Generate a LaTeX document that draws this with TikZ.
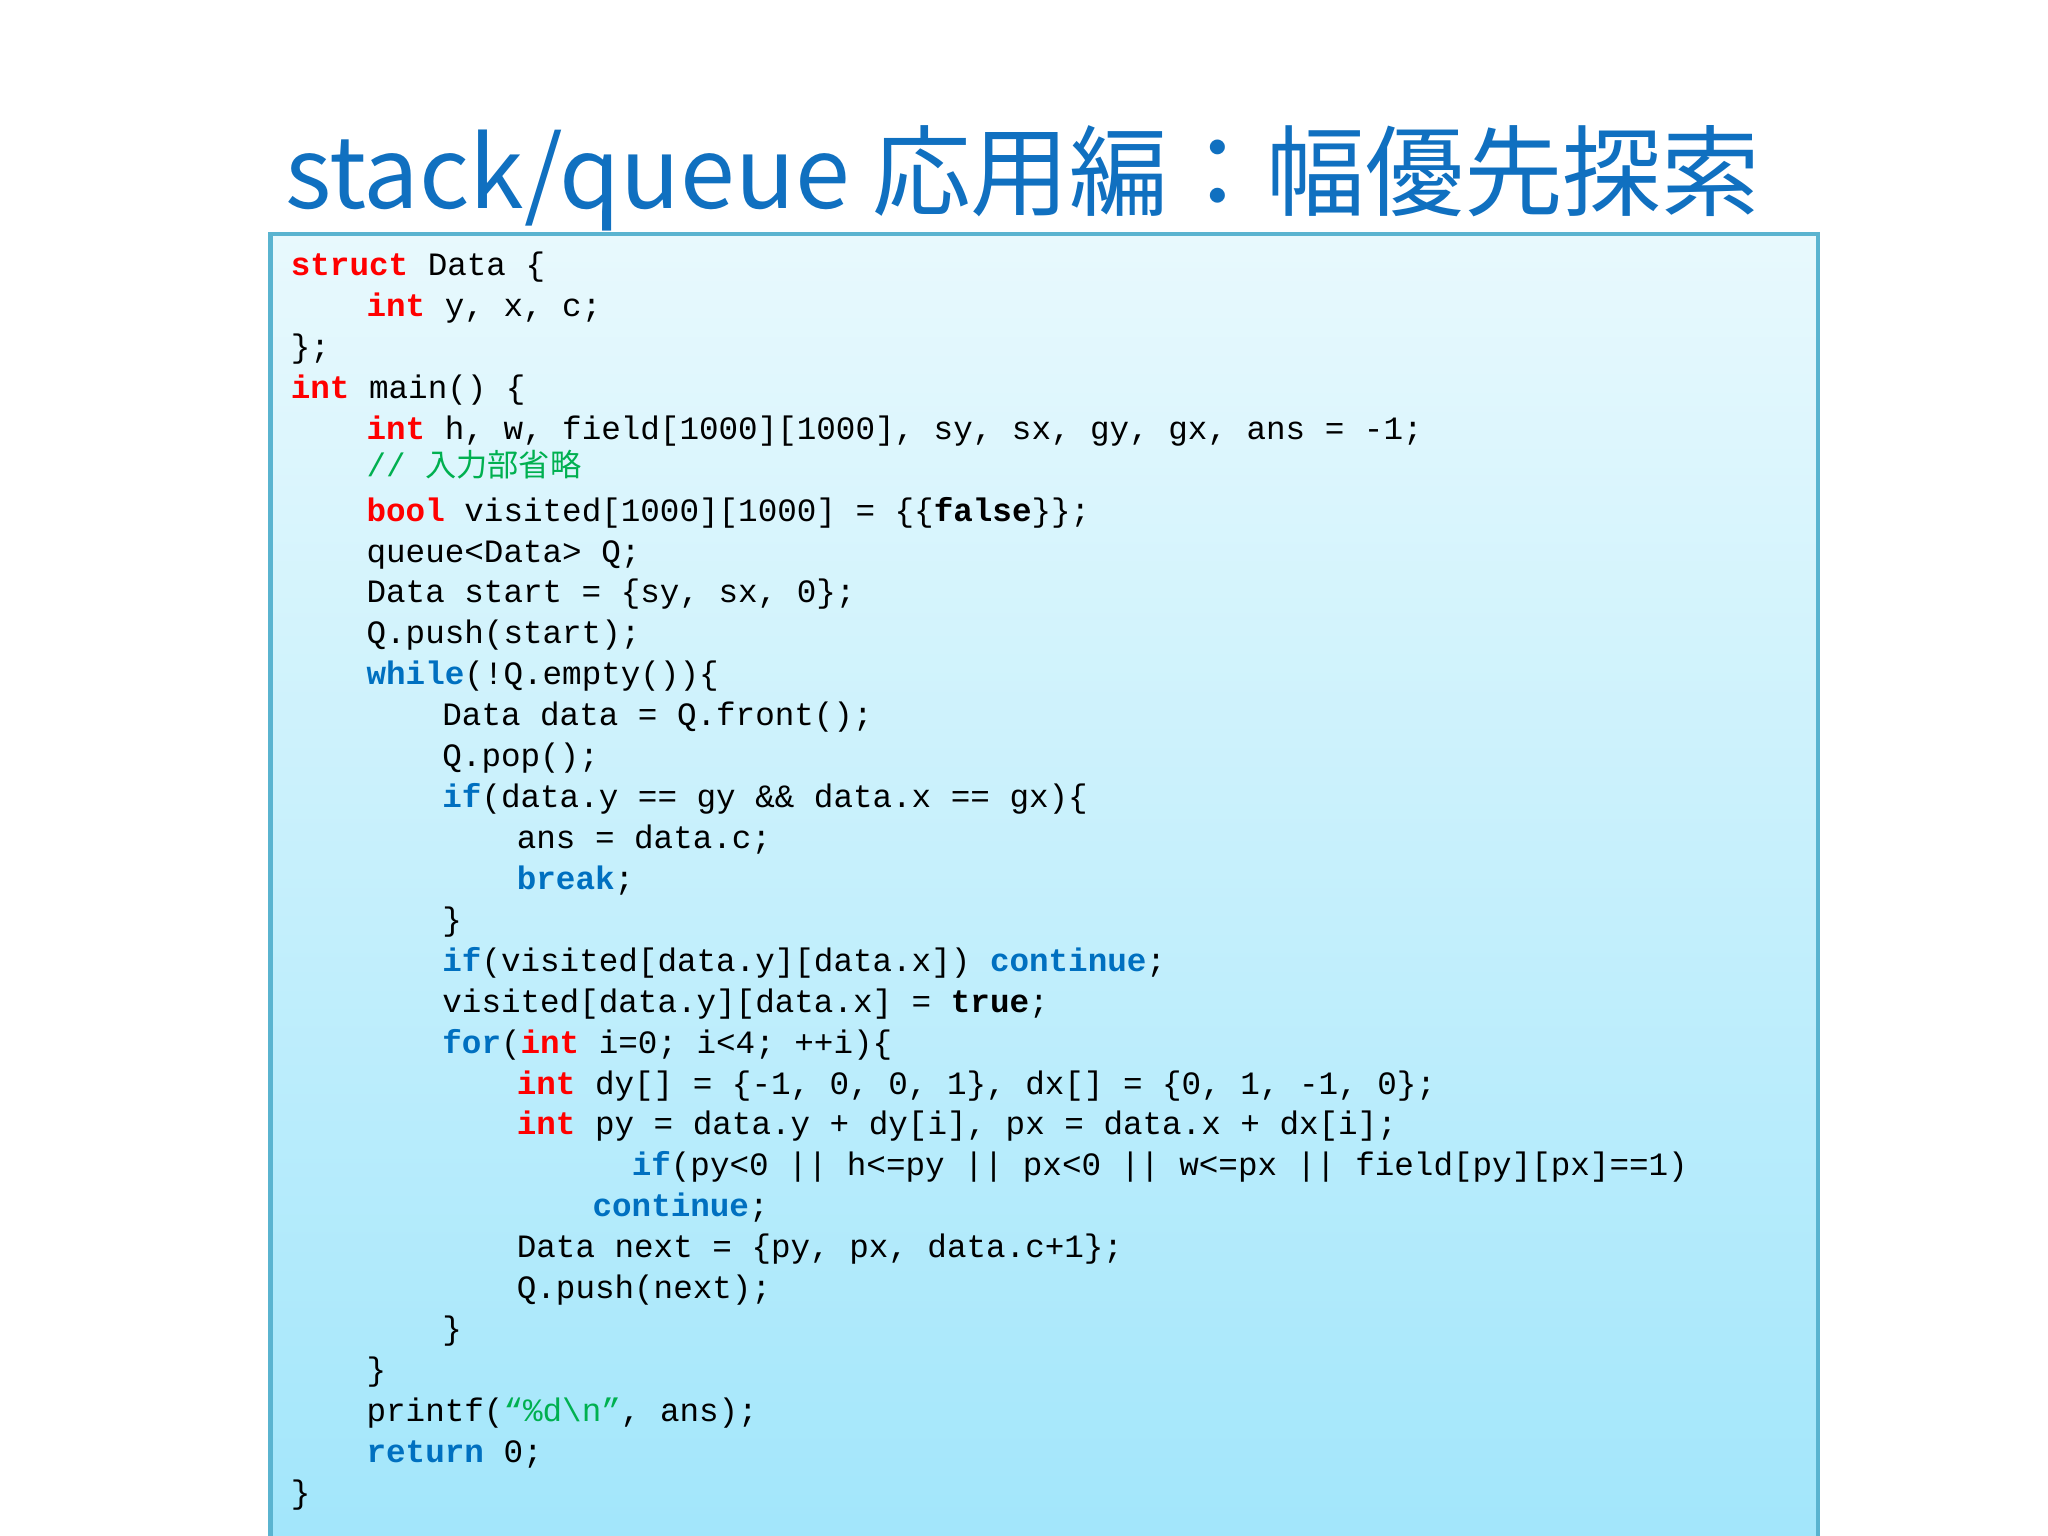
\documentclass[tikz,border=0pt]{standalone}
\usepackage{fontspec}
\setmonofont{Liberation Mono}
\newfontfamily\cjk{Noto Sans CJK JP}
\usetikzlibrary{shadings}
\definecolor{kred}{HTML}{FF0000}
\definecolor{kblue}{HTML}{0070C0}
\definecolor{kgreen}{HTML}{00B050}
\definecolor{ttl}{HTML}{1070C0}
\definecolor{boxtop}{HTML}{E8F9FD}
\definecolor{boxbot}{HTML}{A2E6FB}
\definecolor{boxline}{HTML}{5AB4D0}
\newcommand{\kr}[1]{{\bfseries\color{kred}#1}}
\newcommand{\kb}[1]{{\bfseries\color{kblue}#1}}
\newcommand{\kk}[1]{{\bfseries #1}}
\tikzset{code/.style={inner sep=0pt,anchor=base west,font=\ttfamily\fontsize{7.1}{9}\selectfont}}
\begin{document}
\begin{tikzpicture}[x=0.1mm,y=-0.1mm]
\useasboundingbox (0,0) rectangle (1568,1176);
\fill[white] (0,0) rectangle (1568,1176);
\shade[top color=boxtop,bottom color=boxbot,draw=boxline,line width=1pt] (207,179) rectangle (1392,1180);
\node[inner sep=0pt,anchor=base,font=\cjk\fontsize{21.5}{24}\selectfont,text=ttl] (title) at (783,160) {stack/queue 応用編：幅優先探索};
\def\ly#1{211+31.33*(#1-1)}
\node[code] (l1) at (222,{\ly{1}}) {\kr{struct} Data \{};
\node[code] (l2) at (280,{\ly{2}}) {\kr{int} y, x, c;};
\node[code] (l3) at (222,{\ly{3}}) {\};};
\node[code] (l4) at (222,{\ly{4}}) {\kr{int} main() \{};
\node[code] (l5) at (280,{\ly{5}}) {\kr{int} h, w, field[1000][1000], sy, sx, gy, gx, ans = -1;};
\node[code] (l6) at (280,{\ly{6}-3}) {\color{kgreen}// {\cjk\fontsize{6.8}{9}\selectfont 入力部省略}};
\node[code] (l7) at (280,{\ly{7}}) {\kr{bool} visited[1000][1000] = \{\{\kk{false}\}\};};
\node[code] (l8) at (280,{\ly{8}}) {queue<Data> Q;};
\node[code] (l9) at (280,{\ly{9}}) {Data start = \{sy, sx, 0\};};
\node[code] (l10) at (280,{\ly{10}}) {Q.push(start);};
\node[code] (l11) at (280,{\ly{11}}) {\kb{while}(!Q.empty())\{};
\node[code] (l12) at (338,{\ly{12}}) {Data data = Q.front();};
\node[code] (l13) at (338,{\ly{13}}) {Q.pop();};
\node[code] (l14) at (338,{\ly{14}}) {\kb{if}(data.y == gy \&\& data.x == gx)\{};
\node[code] (l15) at (395,{\ly{15}}) {ans = data.c;};
\node[code] (l16) at (395,{\ly{16}}) {\kb{break};};
\node[code] (l17) at (338,{\ly{17}}) {\}};
\node[code] (l18) at (338,{\ly{18}}) {\kb{if}(visited[data.y][data.x]) \kb{continue};};
\node[code] (l19) at (338,{\ly{19}}) {visited[data.y][data.x] = \kk{true};};
\node[code] (l20) at (338,{\ly{20}}) {\kb{for}(\kr{int} i=0; i<4; ++i)\{};
\node[code] (l21) at (395,{\ly{21}}) {\kr{int} dy[] = \{-1, 0, 0, 1\}, dx[] = \{0, 1, -1, 0\};};
\node[code] (l22) at (395,{\ly{22}}) {\kr{int} py = data.y + dy[i], px = data.x + dx[i];};
\node[code] (l23) at (483,{\ly{23}}) {\kb{if}(py<0 || h<=py || px<0 || w<=px || field[py][px]==1)};
\node[code] (l24) at (453,{\ly{24}}) {\kb{continue};};
\node[code] (l25) at (395,{\ly{25}}) {Data next = \{py, px, data.c+1\};};
\node[code] (l26) at (395,{\ly{26}}) {Q.push(next);};
\node[code] (l27) at (338,{\ly{27}}) {\}};
\node[code] (l28) at (280,{\ly{28}}) {\}};
\node[code] (l29) at (280,{\ly{29}}) {printf({\color{kgreen}“\%d\textbackslash n”}, ans);};
\node[code] (l30) at (280,{\ly{30}}) {\kb{return} 0;};
\node[code] (l31) at (222,{\ly{31}}) {\}};
\end{tikzpicture}
\end{document}
